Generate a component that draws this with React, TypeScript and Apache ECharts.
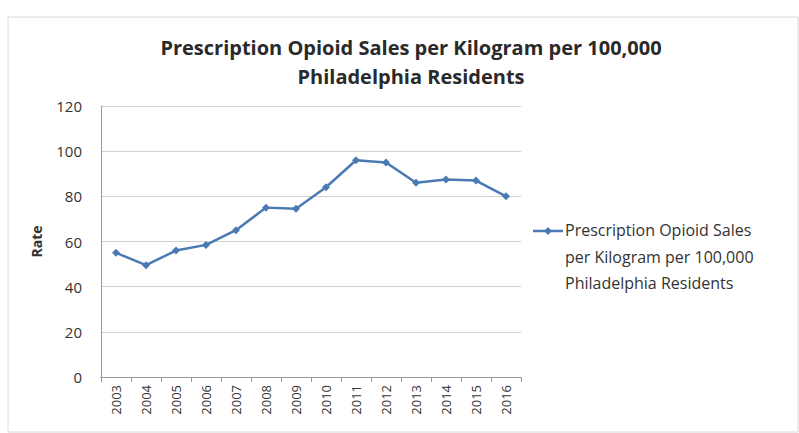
import React, { useEffect, useRef } from "react";
import * as echarts from "echarts";

const years = ["2003","2004","2005","2006","2007","2008","2009","2010","2011","2012","2013","2014","2015","2016"];
const rates = [55, 49.5, 56, 58.5, 65, 75, 74.5, 84, 96, 95, 86, 87.5, 87, 80];
const seriesName = "Prescription Opioid Sales per Kilogram per 100,000 Philadelphia Residents";
const legendLines = ["Prescription Opioid Sales", "per Kilogram per 100,000", "Philadelphia Residents"];
const titleText = "Prescription Opioid Sales per Kilogram per 100,000\nPhiladelphia Residents";

const FONT = "'Open Sans', 'Noto Sans', sans-serif";
const LINE = "#4a7ab4";

export default function App() {
  const ref = useRef<HTMLDivElement>(null);
  useEffect(() => {
    if (!ref.current) return;
    const chart = echarts.init(ref.current, undefined, { renderer: "svg" });
    chart.setOption({
      animation: false,
      backgroundColor: "#fff",
      title: {
        text: titleText,
        left: 406,
        textAlign: "center",
        top: 28,
        textStyle: { fontFamily: FONT, fontSize: 20, fontWeight: "bold", color: "#2a2a2a", lineHeight: 29 },
      },
      grid: { left: 101, right: 278, top: 106, bottom: 56, containLabel: false },
      xAxis: {
        type: "category",
        data: years,
        boundaryGap: true,
        axisLine: { lineStyle: { color: "#999" } },
        axisTick: { show: true, length: 5, lineStyle: { color: "#999" } },
        axisLabel: { rotate: 90, fontFamily: FONT, fontSize: 13, color: "#333", margin: 8 },
      },
      yAxis: {
        type: "value",
        min: 0,
        max: 120,
        interval: 20,
        name: "Rate",
        nameLocation: "middle",
        nameGap: 58,
        nameRotate: 90,
        nameTextStyle: { fontFamily: FONT, fontSize: 14, fontWeight: "bold", color: "#333" },
        axisLine: { show: true, lineStyle: { color: "#999" } },
        axisTick: { show: false },
        axisLabel: { fontFamily: FONT, fontSize: 15, color: "#333", margin: 19 },
        splitLine: { lineStyle: { color: "#d0d0d0" } },
      },
      series: [
        {
          name: seriesName,
          type: "line",
          data: rates,
          symbol: "diamond",
          symbolSize: 8,
          lineStyle: { color: LINE, width: 2.5 },
          itemStyle: { color: LINE },
        },
      ],
      graphic: [
        { type: "rect", shape: { x: 8, y: 17, width: 790, height: 415 }, style: { fill: "none", stroke: "#d8d8d8", lineWidth: 1 } },
        { type: "line", shape: { x1: 533, y1: 231, x2: 563, y2: 231 }, style: { stroke: LINE, lineWidth: 2.5 } },
        { type: "polygon", shape: { points: [[548, 227], [552, 231], [548, 235], [544, 231]] }, style: { fill: LINE } },
        {
          type: "text",
          x: 565,
          y: 217,
          style: { text: legendLines.join("\n"), fontFamily: FONT, fontSize: 16, lineHeight: 26.5, fill: "#333" },
        },
      ],
    });
    return () => chart.dispose();
  }, []);
  return <div ref={ref} style={{ width: 799, height: 433, position: "absolute", left: 0, top: 0 }} />;
}
